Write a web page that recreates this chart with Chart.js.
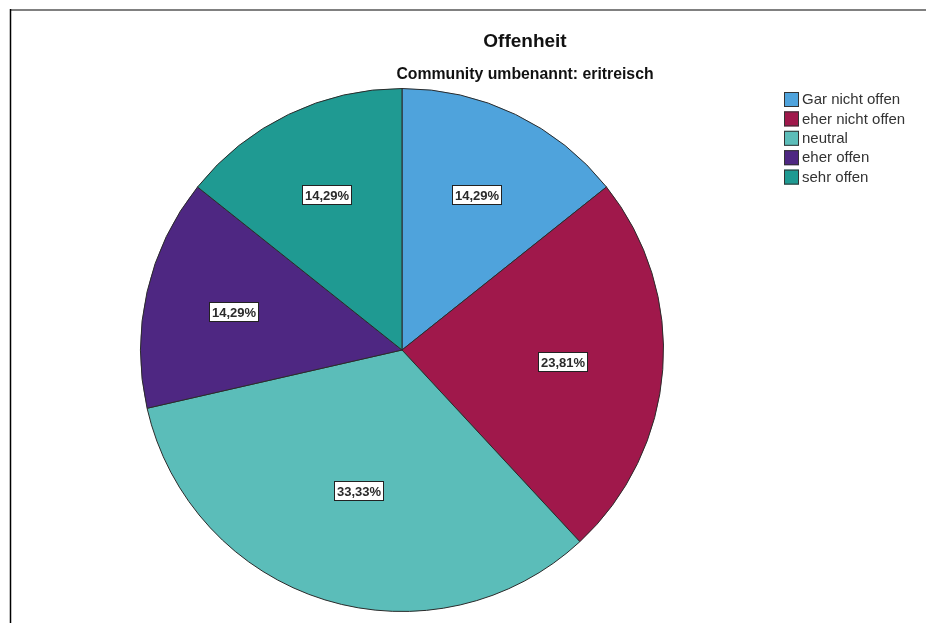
<!DOCTYPE html>
<html>
<head>
<meta charset="utf-8">
<script src="https://cdn.jsdelivr.net/npm/chart.js@4.4.0/dist/chart.umd.min.js"></script>
<style>
  html, body { margin: 0; padding: 0; background: #fff; }
  canvas { display: block; }
</style>
</head>
<body>
<canvas id="pie" width="926" height="623"></canvas>
<script>
// Offenheit, Community umbenannt: eritreisch
const categories = ['Gar nicht offen', 'eher nicht offen', 'neutral', 'eher offen', 'sehr offen'];
const percentages = [14.29, 23.81, 33.33, 14.29, 14.29];
const sliceColors = ['#4fa3dc', '#a0184b', '#5bbdb9', '#4e2782', '#1f9a92'];

const mainTitle = 'Offenheit';
const subTitle = 'Community umbenannt: eritreisch';

const fmtPct = v => v.toFixed(2).replace('.', ',') + '%';

// frame, titles, legend and the boxed percentage labels
const decorations = {
  id: 'decorations',
  afterDraw(chart) {
    const ctx = chart.ctx;
    ctx.save();

    // frame lines (top grey, left black)
    ctx.strokeStyle = '#808080';
    ctx.lineWidth = 2;
    ctx.beginPath();
    ctx.moveTo(10, 10);
    ctx.lineTo(926, 10);
    ctx.stroke();
    ctx.strokeStyle = '#000';
    ctx.lineWidth = 1.5;
    ctx.beginPath();
    ctx.moveTo(10.5, 9);
    ctx.lineTo(10.5, 623);
    ctx.stroke();

    // titles
    ctx.fillStyle = '#111';
    ctx.textAlign = 'center';
    ctx.textBaseline = 'middle';
    ctx.font = 'bold 19px "Liberation Sans", Arial, sans-serif';
    ctx.fillText(mainTitle, 525, 42);
    ctx.font = 'bold 15.8px "Liberation Sans", Arial, sans-serif';
    ctx.fillText(subTitle, 525, 75);

    // legend
    ctx.textAlign = 'left';
    ctx.font = '15px "Liberation Sans", Arial, sans-serif';
    categories.forEach((c, i) => {
      const y = 92 + i * 19.4;
      ctx.fillStyle = sliceColors[i];
      ctx.fillRect(784, y, 15, 15);
      ctx.strokeStyle = '#333';
      ctx.lineWidth = 1;
      ctx.strokeRect(784.5, y + 0.5, 14, 14);
      ctx.fillStyle = '#333';
      ctx.fillText(c, 802, y + 8);
    });

    // percentage labels near each sector's centroid
    const meta = chart.getDatasetMeta(0);
    ctx.font = 'bold 13px "Liberation Sans", Arial, sans-serif';
    ctx.textAlign = 'center';
    meta.data.forEach((arc, i) => {
      const p = arc.getProps(['x', 'y', 'startAngle', 'endAngle', 'outerRadius'], true);
      const half = (p.endAngle - p.startAngle) / 2;
      const mid = p.startAngle + half;
      const d = 1.02 * 2 * p.outerRadius * Math.sin(half) / (3 * half);
      const lx = p.x + Math.cos(mid) * d;
      const ly = p.y + Math.sin(mid) * d;
      const txt = fmtPct(percentages[i]);
      const w = Math.round(ctx.measureText(txt).width + 6);
      const h = 20;
      const bx = Math.round(lx - w / 2);
      const by = Math.round(ly - h / 2);
      ctx.fillStyle = '#fff';
      ctx.fillRect(bx, by, w, h);
      ctx.strokeStyle = '#222';
      ctx.lineWidth = 1;
      ctx.strokeRect(bx + 0.5, by + 0.5, w - 1, h - 1);
      ctx.fillStyle = '#2a2a2a';
      ctx.fillText(txt, bx + w / 2, by + h / 2 + 1);
    });

    ctx.restore();
  }
};

new Chart(document.getElementById('pie'), {
  type: 'pie',
  data: {
    labels: categories,
    datasets: [{
      data: percentages,
      backgroundColor: sliceColors,
      borderColor: '#2b2b2b',
      borderWidth: 1
    }]
  },
  options: {
    responsive: false,
    animation: false,
    layout: { padding: { left: 140, right: 262, top: 88, bottom: 11 } },
    plugins: {
      legend: { display: false },
      tooltip: { enabled: false },
      title: { display: false }
    }
  },
  plugins: [decorations]
});
</script>
</body>
</html>
